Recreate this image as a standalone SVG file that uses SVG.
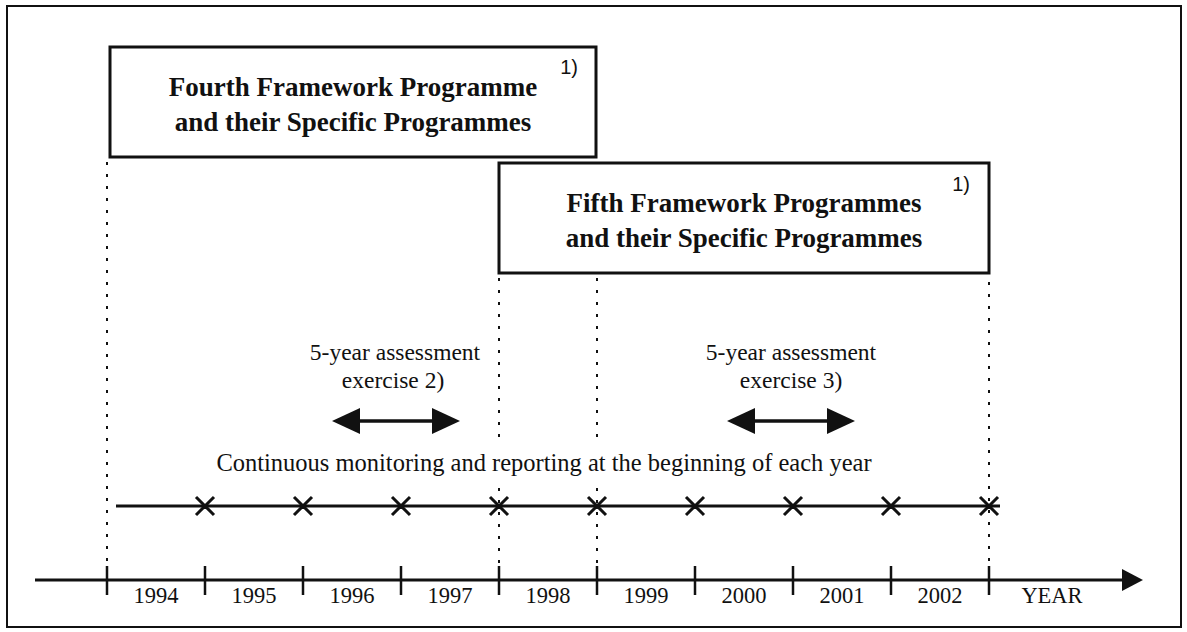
<svg xmlns="http://www.w3.org/2000/svg" width="1187" height="632" viewBox="0 0 1187 632">
<style>
.frame{fill:none;stroke:#111;stroke-width:2}
.box{fill:#fff;stroke:#111;stroke-width:3}
.title{font-family:"Liberation Serif","Times New Roman",serif;font-weight:bold;font-size:27px;fill:#111;text-anchor:middle}
.note{font-family:"Liberation Sans",Arial,sans-serif;font-size:20px;fill:#111;text-anchor:end}
.lbl{font-family:"Liberation Serif","Times New Roman",serif;font-size:23.5px;fill:#111;text-anchor:middle}
.yr{font-family:"Liberation Serif","Times New Roman",serif;font-size:22.5px;fill:#111;text-anchor:middle}
.dot{stroke:#111;stroke-width:2;stroke-dasharray:3 9;fill:none}
.line{stroke:#111;stroke-width:3;fill:none}
.tick{stroke:#111;stroke-width:2.5;fill:none}
.x{stroke:#111;stroke-width:3;fill:none}
.head{fill:#111}
</style>
<rect x="0" y="0" width="1187" height="632" fill="#fff"/>
<rect class="frame" x="7" y="6" width="1174" height="621"/>

<g id="connectors">
  <line class="dot" x1="107" y1="162" x2="107" y2="565"/>
  <line class="dot" x1="499" y1="278" x2="499" y2="446"/>
  <line class="dot" x1="499" y1="488" x2="499" y2="565"/>
  <line class="dot" x1="597" y1="278" x2="597" y2="446"/>
  <line class="dot" x1="597" y1="488" x2="597" y2="565"/>
  <line class="dot" x1="989" y1="282" x2="989" y2="565"/>
</g>

<g id="fourth-fp">
  <rect class="box" x="110" y="47" width="486" height="110"/>
  <text class="note" x="578" y="74">1)</text>
  <text class="title" x="353" y="96">Fourth Framework Programme</text>
  <text class="title" x="353" y="131">and their Specific Programmes</text>
</g>

<g id="fifth-fp">
  <rect class="box" x="499" y="163" width="490" height="110"/>
  <text class="note" x="970" y="191">1)</text>
  <text class="title" x="744" y="212">Fifth Framework Programmes</text>
  <text class="title" x="744" y="247">and their Specific Programmes</text>
</g>

<g id="assessment-2">
  <text class="lbl" x="395" y="360">5-year assessment</text>
  <text class="lbl" x="393" y="388">exercise 2)</text>
  <line x1="356" y1="421" x2="436" y2="421" stroke="#111" stroke-width="3.5"/>
  <polygon class="head" points="332,421 360,408 360,434"/>
  <polygon class="head" points="460,421 432,408 432,434"/>
</g>

<g id="assessment-3">
  <text class="lbl" x="791" y="360">5-year assessment</text>
  <text class="lbl" x="791" y="388">exercise 3)</text>
  <line x1="750" y1="421" x2="831" y2="421" stroke="#111" stroke-width="3.5"/>
  <polygon class="head" points="727,421 755,408 755,434"/>
  <polygon class="head" points="855,421 827,408 827,434"/>
</g>

<g id="monitoring">
  <text class="lbl" x="544" y="471" style="font-size:24.5px">Continuous monitoring and reporting at the beginning of each year</text>
  <line class="line" x1="116" y1="506" x2="1000" y2="506"/>
  <path class="x" d="M196,497 L214,515 M214,497 L196,515 M294,497 L312,515 M312,497 L294,515 M392,497 L410,515 M410,497 L392,515 M490,497 L508,515 M508,497 L490,515 M588,497 L606,515 M606,497 L588,515 M686,497 L704,515 M704,497 L686,515 M784,497 L802,515 M802,497 L784,515 M882,497 L900,515 M900,497 L882,515 M980,497 L998,515 M998,497 L980,515"/>
</g>

<g id="year-axis">
  <line class="line" x1="35" y1="580" x2="1124" y2="580"/>
  <polygon class="head" points="1122,569 1143,580 1122,591"/>
  <path class="tick" d="M107,566 V595 M205,566 V595 M303,566 V595 M401,566 V595 M499,566 V595 M597,566 V595 M695,566 V595 M793,566 V595 M891,566 V595 M989,566 V595"/>
  <text class="yr" x="156" y="603">1994</text>
  <text class="yr" x="254" y="603">1995</text>
  <text class="yr" x="352" y="603">1996</text>
  <text class="yr" x="450" y="603">1997</text>
  <text class="yr" x="548" y="603">1998</text>
  <text class="yr" x="646" y="603">1999</text>
  <text class="yr" x="744" y="603">2000</text>
  <text class="yr" x="842" y="603">2001</text>
  <text class="yr" x="940" y="603">2002</text>
  <text class="yr" x="1052" y="603">YEAR</text>
</g>
</svg>
